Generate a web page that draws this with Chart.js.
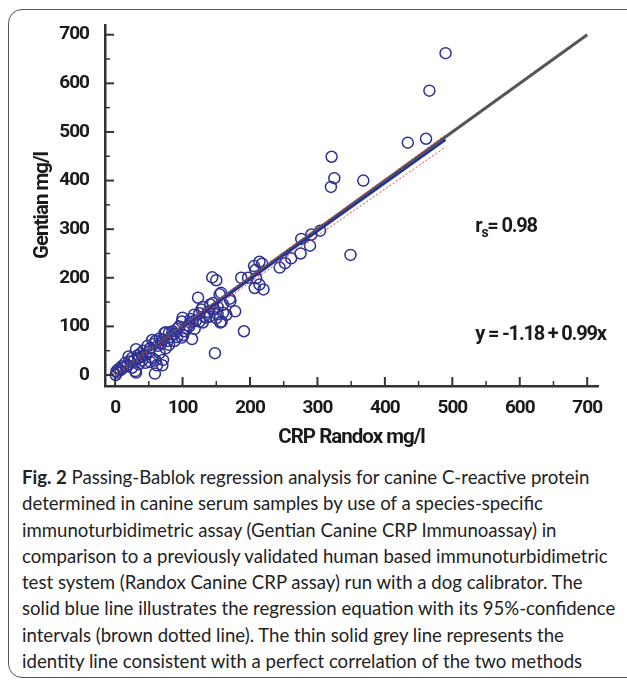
<!DOCTYPE html>
<html lang="en">
<head>
<meta charset="UTF-8">
<title>Passing-Bablok regression</title>
<script src="https://cdn.jsdelivr.net/npm/chart.js"></script>
<style>
  body { margin: 0; background: #fff; }
  #frame {
    position: absolute; left: 8px; top: 9px; width: 660px; height: 667px;
    border: 1.5px solid #555; border-radius: 14px;
  }
  #plot { position: absolute; left: 0; top: 0; }
  #caption {
    position: absolute; left: 22px; top: 464px; width: 600px;
    font-family: Lato, "Open Sans", sans-serif; font-size: 18.6px; line-height: 26.3px;
    color: #222; white-space: nowrap;
  }
  #caption b { font-weight: bold; }
</style>
</head>
<body>
<div id="frame"></div>
<canvas id="plot" width="627" height="460"></canvas>
<div id="caption">
  <b>Fig. 2</b> Passing-Bablok regression analysis for canine C-reactive protein<br>
  determined in canine serum samples by use of a species-specific<br>
  immunoturbidimetric assay (Gentian Canine CRP Immunoassay) in<br>
  comparison to a previously validated human based immunoturbidimetric<br>
  test system (Randox Canine CRP assay) run with a dog calibrator. The<br>
  solid blue line illustrates the regression equation with its 95%-confidence<br>
  intervals (brown dotted line). The thin solid grey line represents the<br>
  identity line consistent with a perfect correlation of the two methods
</div>

<script>
// sample values
const crpRandox = [
  490, 466, 461, 434, 368, 325, 321, 320, 349, 304, 291, 289, 276, 275, 261, 252, 244,
  218, 214, 206, 208, 209, 214, 207, 220, 197, 187, 191, 144, 150, 155, 157, 171, 178,
  165, 156, 150, 141, 123, 117, 114, 148, 170, 160, 152, 147, 138, 132, 128, 125, 120,
  130, 135, 145, 160, 108, 112, 105, 100, 99, 95, 101, 99, 92, 88, 85, 80, 82, 78, 75,
  73, 70, 68, 66, 63, 60, 58, 55, 52, 50, 48, 45, 42, 40, 38, 35, 33, 31, 28, 25, 22,
  20, 18, 15, 12, 10, 8, 5, 3, 1, 2, 60, 62, 59, 52, 71, 70, 66, 75, 80, 55, 45, 30,
  31, 25, 35, 40, 88, 92, 102, 110, 115, 118, 140, 125, 130, 158, 152
];
const gentian = [
  662, 585, 486, 478, 400, 405, 449, 387, 247, 297, 289, 266, 280, 250, 240, 230, 221,
  229, 233, 224, 216, 199, 186, 179, 176, 200, 200, 90, 201, 195, 166, 169, 152, 131,
  124, 108, 117, 145, 159, 124, 74, 45, 157, 128, 140, 135, 130, 120, 135, 110, 112,
  140, 118, 148, 145, 102, 115, 96, 118, 110, 100, 82, 77, 95, 85, 90, 87, 78, 70, 88,
  86, 72, 64, 75, 60, 70, 64, 72, 55, 48, 60, 42, 50, 38, 45, 35, 40, 53, 30, 35, 28,
  38, 20, 25, 15, 18, 10, 12, 5, 0, 8, 30, 20, 3, 27, 31, 20, 45, 55, 62, 35, 25, 8,
  5, 15, 22, 30, 70, 78, 90, 100, 110, 95, 120, 127, 108, 110, 125
];

// line end points
const identityX = [0, 700];
const identityY = [0, 700];
const regX = [2, 490];
const regY = [0.8, 484];
const ciUpperY = [1.5, 494];
const ciLowerY = [0, 469];

// axis ticks
const majorTicks = [0, 100, 200, 300, 400, 500, 600, 700];
const minorTicks = [50, 150, 250, 350, 450, 550, 650];

const labelFont = 'Roboto, "Liberation Sans", sans-serif';

function toPoints(xs, ys) {
  return xs.map((x, i) => ({ x: x, y: ys[i] }));
}

const allTicks = majorTicks.concat(minorTicks).sort((a, b) => a - b);

// squeeze the bold labels a little, the original uses a narrow face
const narrow = {
  id: 'narrow',
  beforeLayout(chart) { chart.ctx.letterSpacing = '-1px'; },
  beforeDraw(chart) { chart.ctx.letterSpacing = '-1px'; }
};

// inward tick marks + text notes
const extras = {
  id: 'extras',
  afterDraw(chart) {
    const c = chart.ctx;
    const xs = chart.scales.x, ys = chart.scales.y;
    const area = chart.chartArea;
    c.save();
    c.strokeStyle = '#333';
    allTicks.forEach(v => {
      const major = majorTicks.includes(v);
      const len = major ? 9 : 5;
      c.lineWidth = major ? 2 : 1.5;
      const px = xs.getPixelForValue(v);
      c.beginPath(); c.moveTo(px, area.bottom); c.lineTo(px, area.bottom - len); c.stroke();
      const py = ys.getPixelForValue(v);
      c.beginPath(); c.moveTo(area.left, py); c.lineTo(area.left + len, py); c.stroke();
    });

    c.fillStyle = '#1a1a1a';
    c.textBaseline = 'middle';
    c.textAlign = 'left';
    c.letterSpacing = '-1.2px';
    let tx = xs.getPixelForValue(534), ty = ys.getPixelForValue(305);
    c.font = 'bold 20px ' + labelFont;
    c.fillText('r', tx, ty);
    let w = c.measureText('r').width;
    c.font = 'bold 14px ' + labelFont;
    c.fillText('s', tx + w, ty + 7);
    w += c.measureText('s').width;
    c.font = 'bold 20px ' + labelFont;
    c.fillText('= 0.98', tx + w, ty);

    tx = xs.getPixelForValue(534); ty = ys.getPixelForValue(82);
    c.fillText('y = -1.18 + 0.99x', tx, ty);
    c.restore();
  }
};

new Chart(document.getElementById('plot'), {
  type: 'scatter',
  data: {
    datasets: [
      {
        label: 'Regression',
        type: 'line',
        data: toPoints(regX, regY),
        borderColor: '#2233a0',
        borderWidth: 2.5,
        pointRadius: 0,
        order: 1
      },
      {
        label: 'CI upper',
        type: 'line',
        data: toPoints(regX, ciUpperY),
        borderColor: '#d9403a',
        borderWidth: 1,
        borderDash: [2, 2],
        pointRadius: 0,
        order: 0
      },
      {
        label: 'CI lower',
        type: 'line',
        data: toPoints(regX, ciLowerY),
        borderColor: '#d9403a',
        borderWidth: 1,
        borderDash: [2, 2],
        pointRadius: 0,
        order: 0
      },
      {
        label: 'Identity',
        type: 'line',
        data: toPoints(identityX, identityY),
        borderColor: '#555',
        borderWidth: 3,
        pointRadius: 0,
        order: 3
      },
      {
        label: 'Samples',
        data: toPoints(crpRandox, gentian),
        pointStyle: 'circle',
        pointRadius: 5.5,
        pointBorderWidth: 1.5,
        borderColor: '#2e3192',
        backgroundColor: 'rgba(0,0,0,0)',
        order: 4
      }
    ]
  },
  options: {
    responsive: false,
    animation: false,
    devicePixelRatio: 1,
    layout: { padding: { top: 25, right: 29, left: 0, bottom: 0 } },
    plugins: { legend: { display: false }, tooltip: { enabled: false } },
    scales: {
      x: {
        type: 'linear',
        min: -15,
        max: 716,
        afterBuildTicks: s => { s.ticks = allTicks.map(v => ({ value: v })); },
        afterFit: s => { s.height = 74; },
        grid: { display: false },
        border: { display: true, color: '#333', width: 2.5 },
        ticks: {
          padding: 3,
          color: '#1a1a1a',
          font: { family: labelFont, size: 19, weight: 'bold' },
          maxRotation: 0,
          autoSkip: false,
          callback: v => majorTicks.includes(v) ? String(v) : ''
        },
        title: {
          display: true,
          text: 'CRP Randox mg/l',
          color: '#1a1a1a',
          font: { family: labelFont, size: 20.5, weight: 'bold' },
          padding: { top: 0, bottom: 10 }
        }
      },
      y: {
        type: 'linear',
        min: -22.6,
        max: 720,
        afterBuildTicks: s => { s.ticks = allTicks.map(v => ({ value: v })); },
        afterFit: s => { s.width = 105; },
        grid: { display: false },
        border: { display: true, color: '#333', width: 2.5 },
        ticks: {
          padding: 8,
          color: '#1a1a1a',
          font: { family: labelFont, size: 19, weight: 'bold' },
          autoSkip: false,
          callback: v => majorTicks.includes(v) ? String(v) : ''
        },
        title: {
          display: true,
          text: 'Gentian mg/l',
          color: '#1a1a1a',
          font: { family: labelFont, size: 20.5, weight: 'bold' },
          padding: { top: 31, bottom: 0 }
        }
      }
    }
  },
  plugins: [narrow, extras]
});
</script>
</body>
</html>
